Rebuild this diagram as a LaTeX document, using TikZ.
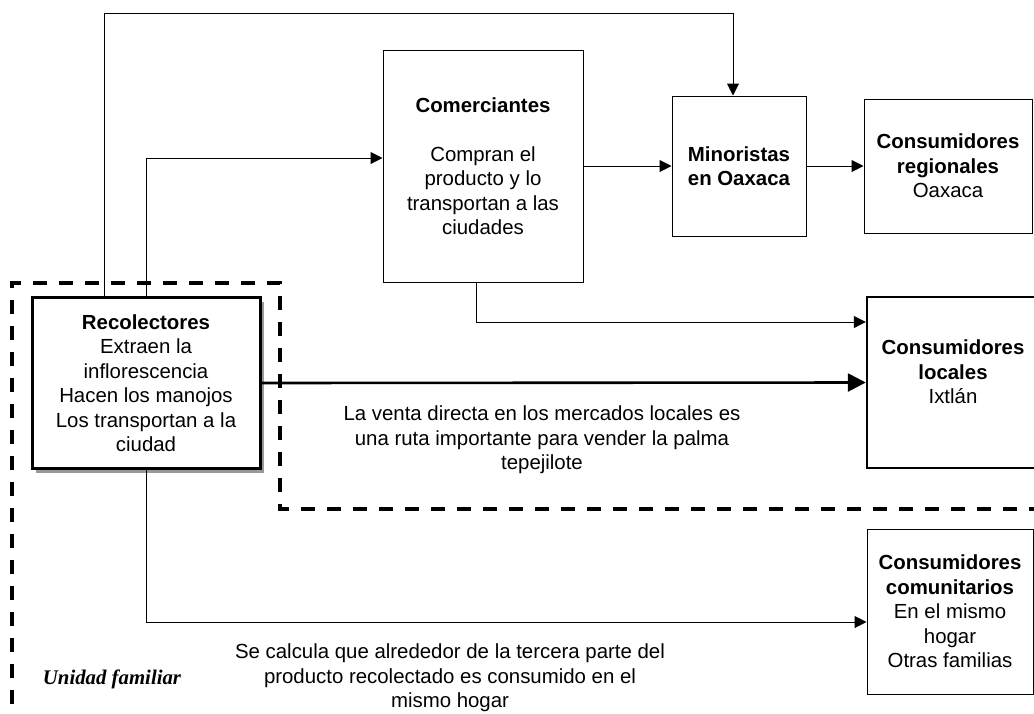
\documentclass[tikz,border=0pt]{standalone}
\usepackage{fontspec}
\setmainfont{Liberation Sans}
\newfontfamily\timesfont{Liberation Serif}
\usetikzlibrary{arrows.meta,shadows}

\begin{document}
\begin{tikzpicture}[x=0.5pt, y=-0.5pt,
    every node/.style={font=\fontsize{10.2}{12.25}\selectfont, align=center},
    box/.style={draw, fill=white, line width=0.5pt, inner sep=0pt},
    arr/.style={line width=0.5pt, -{Triangle[length=6pt,width=6pt]}},
    bigarr/.style={line width=1.3pt, -{Triangle[length=9pt,width=9pt]}},
    dashline/.style={line width=2pt, dash pattern=on 7pt off 6pt}]
  \useasboundingbox (0,0) rectangle (1034,713);
  \draw[dashline] (12,730) -- (12,283) -- (280,283) -- (280,509) -- (1050,509);
  \node[box, line width=1.5pt, minimum width=114pt, minimum height=85.5pt,
    drop shadow={shadow xshift=2pt, shadow yshift=-2pt, fill=gray!80, opacity=1}]
    (reco) at (146,383) {\textbf{Recolectores}\\Extraen la\\inflorescencia\\Hacen los manojos\\Los transportan a la\\ciudad};
  \node[box, minimum width=100pt, minimum height=116pt] (come) at (483,166)
    {\textbf{Comerciantes}\\[12.25pt]Compran el\\producto y lo\\transportan a las\\ciudades};
  \node[box, minimum width=67pt, minimum height=70pt] (mino) at (739,166)
    {\textbf{Minoristas}\\\textbf{en Oaxaca}};
  \node[box, minimum width=84pt, minimum height=67pt] (regi) at (948,166)
    {\textbf{Consumidores}\\\textbf{regionales}\\Oaxaca};
  \node[box, line width=1.2pt, minimum width=86pt, minimum height=85.5pt] (loca) at (953,382.5) {};
  \node (locatxt) at (953,372) {\textbf{Consumidores}\\\textbf{locales}\\Ixtlán};
  \node[box, minimum width=83pt, minimum height=82.5pt] (comu) at (950,611.5)
    {\textbf{Consumidores}\\\textbf{comunitarios}\\En el mismo\\hogar\\Otras familias};
  \node (venta) at (542,440) {La venta directa en los mercados locales es\\una ruta importante para vender la palma\\tepejilote};
  \node (tercera) at (450,678) {Se calcula que alrededor de la tercera parte del\\producto recolectado es consumido en el\\mismo hogar};
  \node[font=\fontsize{10.4}{12.25}\timesfont\bfseries\itshape] (unidad) at (112,679) {Unidad familiar};
  \coordinate (t1) at (104,13);
  \coordinate (t2) at (733,13);
  \coordinate (t3) at (146,158);
  \coordinate (t4) at (476,322);
  \coordinate (t5) at (146,622);
  \draw[arr] (reco.north -| t1) |- (t2) -- (mino.north -| t2);
  \draw[arr] (reco.north) |- (come.west |- t3);
  \draw[arr] (come.east) -- (mino.west);
  \draw[arr] (mino.east) -- (regi.west);
  \draw[arr] (come.south -| t4) |- (loca.west |- t4);
  \draw[bigarr] (reco.east) -- (loca.west);
  \draw[arr] (reco.south) |- (comu.west |- t5);
\end{tikzpicture}
\end{document}
